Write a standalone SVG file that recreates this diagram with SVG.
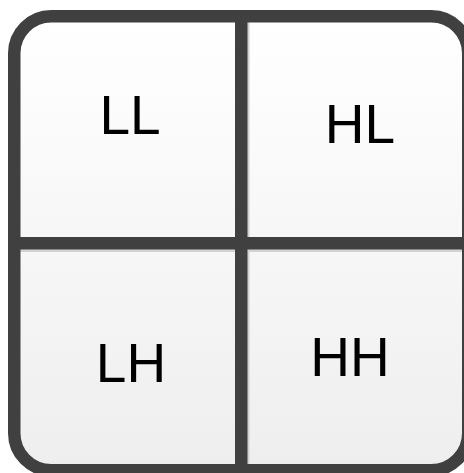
<svg xmlns="http://www.w3.org/2000/svg" width="464" height="473" viewBox="0 0 464 473">
  <defs>
    <linearGradient id="bg" x1="0" y1="0" x2="0" y2="1">
      <stop offset="0" stop-color="#ffffff"/>
      <stop offset="1" stop-color="#eeeeee"/>
    </linearGradient>
    <clipPath id="inner">
      <rect x="14.25" y="16.25" width="454" height="454" rx="37" ry="37"/>
    </clipPath>
    <style>
      .lbl { font-family: "Liberation Sans", Arial, sans-serif; font-size: 55px; fill: #000000; text-anchor: middle; }
      .div { fill: #404040; }
      .shd { fill: #d2d2d2; }
    </style>
  </defs>
  <rect x="14.25" y="16.25" width="454" height="454" rx="37" ry="37" fill="url(#bg)"/>
  <g id="cell-LL">
    <text class="lbl" x="130" y="134">LL</text>
  </g>
  <g id="cell-HL">
    <text class="lbl" x="360" y="143">HL</text>
  </g>
  <g id="cell-LH">
    <text class="lbl" x="131" y="382">LH</text>
  </g>
  <g id="cell-HH">
    <text class="lbl" x="350" y="376">HH</text>
  </g>
  <g id="connectors" clip-path="url(#inner)">
    <rect class="shd" x="247" y="10" width="2.5" height="470"/>
    <rect class="shd" x="8" y="249" width="470" height="3"/>
    <rect class="div" x="235" y="10" width="12.5" height="470"/>
    <rect class="div" x="8" y="237" width="470" height="12.5"/>
  </g>
  <rect x="14.25" y="16.25" width="454" height="454" rx="37" ry="37" fill="none" stroke="#404040" stroke-width="12.5"/>
</svg>
